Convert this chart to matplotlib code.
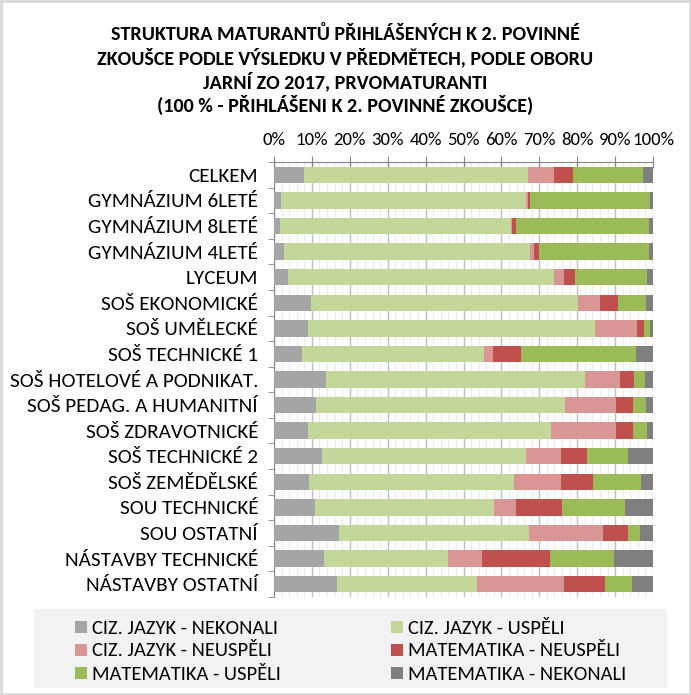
import matplotlib
matplotlib.use("Agg")
import matplotlib.pyplot as plt
import numpy as np
from matplotlib.ticker import MultipleLocator, FuncFormatter
from matplotlib.patches import Rectangle

plt.rcParams['font.family'] = ['Carlito', 'DejaVu Sans']

categories = ["CELKEM", "GYMNÁZIUM 6LETÉ", "GYMNÁZIUM 8LETÉ", "GYMNÁZIUM 4LETÉ", "LYCEUM",
              "SOŠ EKONOMICKÉ", "SOŠ UMĚLECKÉ", "SOŠ TECHNICKÉ 1", "SOŠ HOTELOVÉ A PODNIKAT.",
              "SOŠ PEDAG. A HUMANITNÍ", "SOŠ ZDRAVOTNICKÉ", "SOŠ TECHNICKÉ 2", "SOŠ ZEMĚDĚLSKÉ",
              "SOU TECHNICKÉ", "SOU OSTATNÍ", "NÁSTAVBY TECHNICKÉ", "NÁSTAVBY OSTATNÍ"]

cj_nekonali = [7.8, 1.8, 1.6, 2.6, 3.6, 9.7, 8.9, 7.3, 13.6, 11.0, 8.9, 12.6, 9.2, 10.8, 17.1, 13.1, 16.5]
cj_uspeli   = [59.1, 64.6, 61.0, 64.9, 70.2, 70.6, 75.9, 48.1, 68.5, 65.8, 64.1, 53.8, 54.1, 47.2, 50.1, 32.8, 37.0]
cj_neuspeli = [7.1, 0.5, 0.3, 1.0, 2.6, 5.8, 11.0, 2.3, 9.2, 13.5, 17.3, 9.2, 12.3, 5.8, 19.7, 9.0, 22.9]
m_neuspeli  = [5.0, 0.7, 0.9, 1.5, 2.9, 4.7, 1.8, 7.4, 3.7, 4.5, 4.5, 7.1, 8.7, 12.3, 6.5, 17.8, 11.0]
m_uspeli    = [18.4, 31.5, 35.1, 28.9, 19.2, 7.3, 1.5, 30.4, 3.0, 3.4, 3.6, 10.7, 12.6, 16.6, 3.2, 17.1, 7.1]
m_nekonali  = [2.6, 0.9, 1.1, 1.1, 1.5, 1.9, 0.9, 4.5, 2.0, 1.8, 1.6, 6.6, 3.1, 7.3, 3.4, 10.2, 5.5]

series_names = ["CIZ. JAZYK - NEKONALI", "CIZ. JAZYK - USPĚLI", "CIZ. JAZYK - NEUSPĚLI",
                "MATEMATIKA - NEUSPĚLI", "MATEMATIKA - USPĚLI", "MATEMATIKA - NEKONALI"]
series = [cj_nekonali, cj_uspeli, cj_neuspeli, m_neuspeli, m_uspeli, m_nekonali]
colors = ["#A5A5A5", "#C4D79B", "#DA9694", "#C0504D", "#9BBB59", "#7F7F7F"]

W, H = 691, 695
fig = plt.figure(figsize=(W/100, H/100), dpi=100)
ax = fig.add_axes([274/W, 1 - 597/H, (653-274)/W, (597-162)/H])

y = np.arange(len(categories))
left = np.zeros(len(categories))
for name, vals, c in zip(series_names, series, colors):
    vals = np.array(vals, dtype=float)
    ax.barh(y, vals, left=left, height=0.64, color=c, label=name, zorder=3)
    left += vals

ax.set_xlim(0, 100)
ax.set_ylim(len(categories) - 0.5, -0.5)
ax.xaxis.tick_top()
ax.xaxis.set_major_locator(MultipleLocator(10))
ax.xaxis.set_minor_locator(MultipleLocator(2))
ax.xaxis.set_major_formatter(FuncFormatter(lambda v, p: f"{int(round(v))}%"))
ax.grid(axis='x', which='major', color='#BFBFBF', linewidth=1.0, zorder=0)
ax.grid(axis='x', which='minor', color='#EBEBEB', linewidth=0.8, zorder=0)
ax.tick_params(axis='x', which='major', direction='inout', length=8, color='#868686',
               labelsize=13.5, pad=6)
ax.tick_params(axis='x', which='minor', length=0)
ax.set_yticks(y)
ax.set_yticklabels(categories, fontsize=15.2)
ax.set_yticks(np.arange(len(categories) + 1) - 0.5, minor=True)
ax.tick_params(axis='y', which='major', length=0, pad=11.5)
ax.tick_params(axis='y', which='minor', length=4, color='#868686')
for s in ['right', 'bottom']:
    ax.spines[s].set_visible(False)
ax.spines['left'].set_color('#868686')
ax.spines['top'].set_color('#868686')

fig.text(0.5, 1 - 70/H, "STRUKTURA MATURANTŮ PŘIHLÁŠENÝCH K 2. POVINNÉ\n"
         "ZKOUŠCE PODLE VÝSLEDKU V PŘEDMĚTECH, PODLE OBORU\n"
         "JARNÍ ZO 2017, PRVOMATURANTI\n"
         "(100 % - PŘIHLÁŠENI K 2. POVINNÉ ZKOUŠCE)",
         ha='center', va='center', fontsize=14.5, fontweight='bold', linespacing=1.24)

# legend background
fig.patches.append(Rectangle((34/W, 1 - 688/H), (667-34)/W, (688-609)/H,
                             transform=fig.transFigure, facecolor='#F2F2F2', edgecolor='none', zorder=0))
# legend entries (manual, Excel-like layout)
order = [0, 2, 4, 1, 3, 5]
col_x = [75, 391]
row_y = [627, 650, 673]
for k, i in enumerate(order):
    cx = col_x[k // 3]
    cy = row_y[k % 3]
    fig.patches.append(Rectangle((cx/W, 1 - (cy + 6)/H), 12/W, 12/H, transform=fig.transFigure,
                                 facecolor=colors[i], edgecolor='none', zorder=2))
    fig.text((cx + 17)/W, 1 - (cy + 1)/H, series_names[i], fontsize=14.8, ha='left', va='center')

# outer border
fig.patches.append(Rectangle((0.002, 0.002), 0.996, 0.996, transform=fig.transFigure,
                             facecolor='none', edgecolor='#D9D9D9', linewidth=2))

fig.savefig("out.png", dpi=100)
